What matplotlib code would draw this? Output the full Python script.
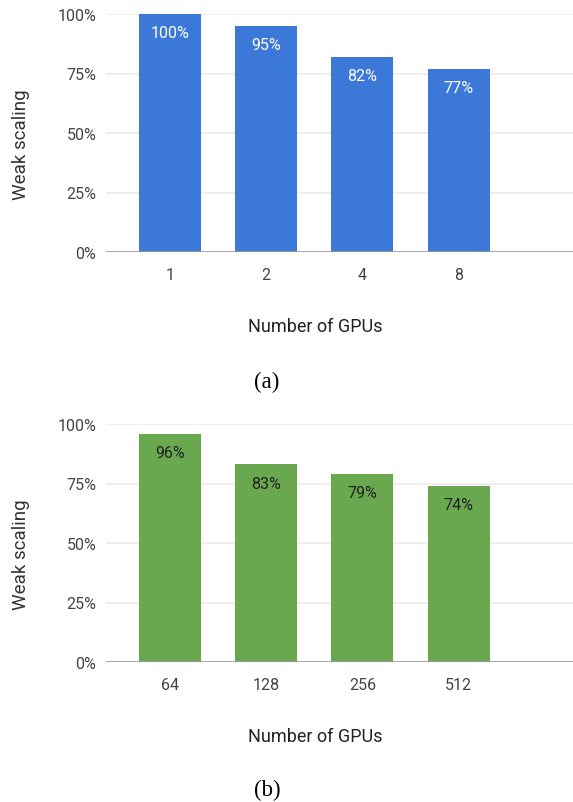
import matplotlib
matplotlib.use("Agg")
import matplotlib.pyplot as plt
import numpy as np

plt.rcParams['font.family'] = ['Roboto', 'DejaVu Sans']

gpus_a = ["1", "2", "4", "8"]
scaling_a = [100, 95, 82, 77]
gpus_b = ["64", "128", "256", "512"]
scaling_b = [96, 83, 79, 74]
yticks = [0, 25, 50, 75, 100]

W, H = 573, 803
fig = plt.figure(figsize=(W / 100, H / 100), dpi=100)

def px_axes(left, top, right, bottom):
    return fig.add_axes([left / W, 1 - bottom / H, (right - left) / W, (bottom - top) / H])

def draw(ax, cats, vals, color, lblcolor):
    x = np.arange(len(cats))
    ax.bar(x, vals, width=0.645, color=color, zorder=3)
    ax.set_ylim(0, 100)
    ax.set_xlim(-0.665, 3 + 1.19)
    ax.set_yticks(yticks)
    ax.set_yticklabels([f"{v}%" for v in yticks])
    ax.set_xticks(x)
    ax.set_xticklabels(cats)
    ax.tick_params(axis='both', length=0, labelsize=11.5, colors='#444444')
    ax.tick_params(axis='y', pad=7)
    ax.tick_params(axis='x', pad=11)
    for s in ax.spines.values():
        s.set_visible(False)
    ax.grid(axis='y', color='#ebebeb', linewidth=1.2, zorder=0)
    ax.axhline(0, color='#999999', linewidth=1.2, zorder=4)
    for xi, v in zip(x, vals):
        ax.annotate(f"{v}%", (xi, v), xytext=(0, -13.5), textcoords='offset points',
                    ha='center', va='center', fontsize=11.5, color=lblcolor, zorder=5)

ax1 = px_axes(106, 15, 573, 253)
draw(ax1, gpus_a, scaling_a, '#3c78d8', 'white')
ax2 = px_axes(106, 425, 573, 663)
draw(ax2, gpus_b, scaling_b, '#6aa84f', '#222222')

fig.text(21 / W, 1 - 145 / H, "Weak scaling", rotation=90, ha='center', va='center',
         fontsize=13.5, color='#333333')
fig.text(21 / W, 1 - 555 / H, "Weak scaling", rotation=90, ha='center', va='center',
         fontsize=13.5, color='#333333')
fig.text(315 / W, 1 - 327 / H, "Number of GPUs", ha='center', va='center',
         fontsize=13, color='#222222')
fig.text(315 / W, 1 - 737 / H, "Number of GPUs", ha='center', va='center',
         fontsize=13, color='#222222')
fig.text(267 / W, 1 - 382 / H, "(a)", ha='center', va='center',
         fontsize=16.5, family='Liberation Serif', color='black')
fig.text(267 / W, 1 - 790 / H, "(b)", ha='center', va='center',
         fontsize=16.5, family='Liberation Serif', color='black')

fig.savefig("out.png", dpi=100)
